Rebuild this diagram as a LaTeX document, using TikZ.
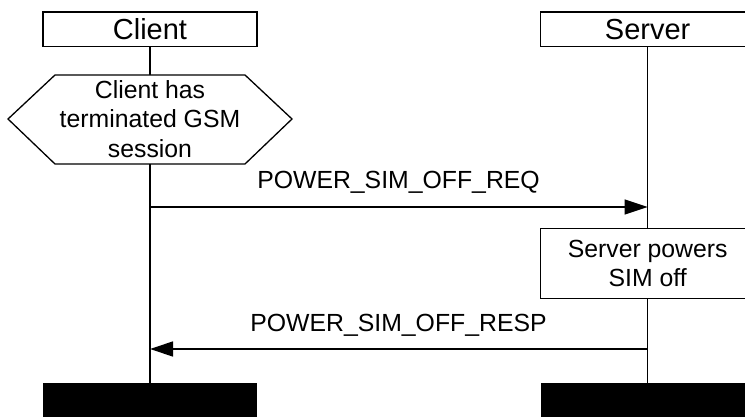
\documentclass[tikz,border=0pt]{standalone}
\usepackage{fontspec}
\setmainfont{Liberation Sans}
\usetikzlibrary{arrows.meta}
\begin{document}
\begin{tikzpicture}[x=1pt,y=-1pt, line width=1.3pt,
  lbl/.style={font=\fontsize{29}{34}\selectfont},
  txt/.style={font=\fontsize{24.8}{29.5}\selectfont, align=center},
  box/.style={draw, fill=white, inner sep=0pt, outer sep=0pt},
  bar/.style={fill=black, inner sep=0pt, outer sep=0pt, minimum width=214pt, minimum height=36pt},
  msg/.style={-{Triangle[length=23pt,width=15pt]}}]
\useasboundingbox (0,0) rectangle (745,417);
\clip (0,0) rectangle (745,417);
% heads
\node[box, lbl, minimum width=214pt, minimum height=34.5pt] (client) at (150,29.2) {Client};
\node[box, lbl, minimum width=214pt, minimum height=34.5pt] (server) at (647.7,29.2) {Server};
% end bars
\node[bar] (cbar) at (150,401.3) {};
\node[bar] (sbar) at (647.7,401.3) {};
% lifelines
\draw (client.south) -- (cbar.north);
\draw (server.south) -- (sbar.north);
% condition hexagon
\filldraw[fill=white] (8,119) -- (55,75) -- (245,75) -- (292,119) -- (245,164) -- (55,164) -- cycle;
\node[txt, inner sep=0pt] (cond) at (150,119) {Client has\\terminated GSM\\session};
% request
\coordinate (reqA) at (150,207);
\coordinate (reqB) at (647.7,207);
\draw[msg] (reqA) -- (reqB);
\node[txt, anchor=base, inner sep=0pt] (reqL) at (398.5,189) {POWER\_SIM\_OFF\_REQ};
% action
\node[box, txt, minimum width=214pt, minimum height=70.5pt] (act) at (647.7,263.5) {Server powers\\SIM off};
% response
\coordinate (rspA) at (647.7,349);
\coordinate (rspB) at (150,349);
\draw[msg] (rspA) -- (rspB);
\node[txt, anchor=base, inner sep=0pt] (rspL) at (398.5,331.5) {POWER\_SIM\_OFF\_RESP};
\end{tikzpicture}
\end{document}
